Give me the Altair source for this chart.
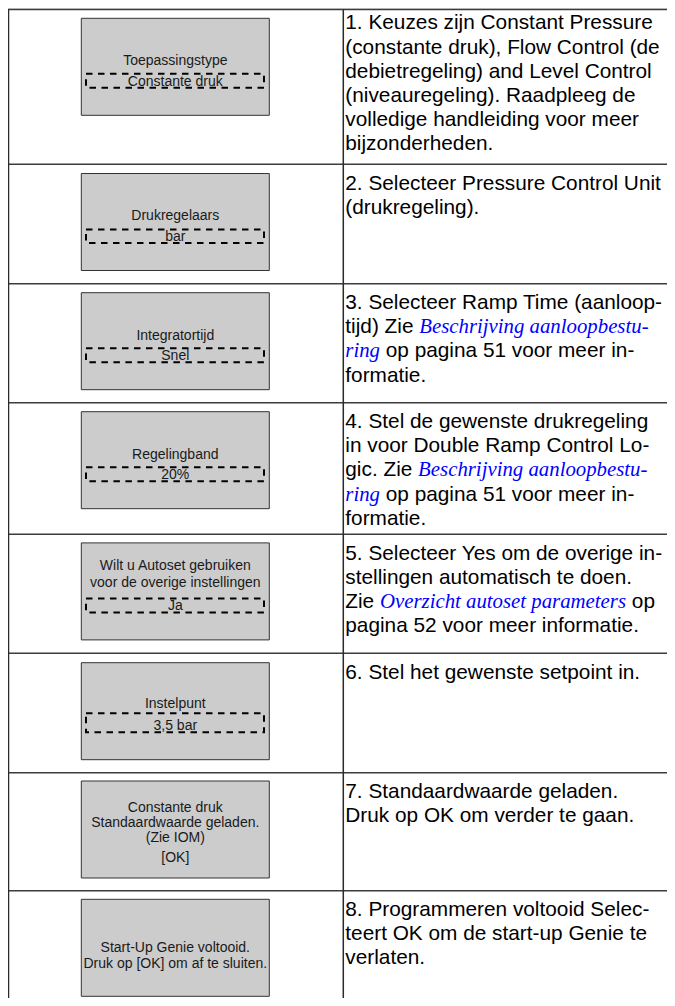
import altair as alt
import pandas as pd

# ---------------- data ----------------
box_labels = [
    ["Toepassingstype"],
    ["Drukregelaars"],
    ["Integratortijd"],
    ["Regelingband"],
    ["Wilt u Autoset gebruiken", "voor de overige instellingen"],
    ["Instelpunt"],
    ["Constante druk", "Standaardwaarde geladen.", "(Zie IOM)", "[OK]"],
    ["Start-Up Genie voltooid.", "Druk op [OK] om af te sluiten."],
]
box_values = ["Constante druk", "bar", "Snel", "20%", "Ja", "3,5 bar", "", ""]

R, L = "regular", "link"
right_text = [
    [[(R, "1. Keuzes zijn Constant Pressure")],
     [(R, "(constante druk), Flow Control (de")],
     [(R, "debietregeling) and Level Control")],
     [(R, "(niveauregeling). Raadpleeg de")],
     [(R, "volledige handleiding voor meer")],
     [(R, "bijzonderheden.")]],
    [[(R, "2. Selecteer Pressure Control Unit")],
     [(R, "(drukregeling).")]],
    [[(R, "3. Selecteer Ramp Time (aanloop-")],
     [(R, "tijd) Zie "), (L, "Beschrijving aanloopbestu-")],
     [(L, "ring"), (R, " op pagina 51 voor meer in-")],
     [(R, "formatie.")]],
    [[(R, "4. Stel de gewenste drukregeling")],
     [(R, "in voor Double Ramp Control Lo-")],
     [(R, "gic. Zie "), (L, "Beschrijving aanloopbestu-")],
     [(L, "ring"), (R, " op pagina 51 voor meer in-")],
     [(R, "formatie.")]],
    [[(R, "5. Selecteer Yes om de overige in-")],
     [(R, "stellingen automatisch te doen.")],
     [(R, "Zie "), (L, "Overzicht autoset parameters"), (R, " op")],
     [(R, "pagina 52 voor meer informatie.")]],
    [[(R, "6. Stel het gewenste setpoint in.")]],
    [[(R, "7. Standaardwaarde geladen.")],
     [(R, "Druk op OK om verder te gaan.")]],
    [[(R, "8. Programmeren voltooid Selec-")],
     [(R, "teert OK om de start-up Genie te")],
     [(R, "verlaten.")]],
]

# ---------------- layout (pixels in page coordinates) ----------------
MARGIN = 8
X_END, Y_END = 667, 998          # keep the whole page inside the window
row_lines = [9.5, 164.3, 283.7, 402.7, 534.3, 653.3, 772.7, 890.7]
box_tops = [18.3, 173.5, 292.7, 411.7, 542.9, 662.7, 781.0, 899.3]
BOX_X0, BOX_X1, BOX_H = 81.3, 269.3, 97.0
DASH_X0, DASH_X1 = 86.0, 264.0
label_offsets = [[46.8], [46.5], [47.3], [46.8], [26.6, 44.0], [45.6],
                 [30.7, 45.7, 60.7, 81.3], [53.0, 68.4]]
value_offset = 67.5
dash_top = [55.5, 56.0, 55.6, 55.6, 55.6, 50.5]
dash_bot = 69.5
COL_X = 343.3
TEXT_X = 345.3
FS = 20.8
LINE_STEP = 24.2
first_base = [29.3] + [r + 25.3 for r in row_lines[1:]]
BOX_CX = (BOX_X0 + BOX_X1) / 2

# font advance widths (per 1000 em) for measuring run offsets
ARIAL = {' ': 278, '(': 333, ')': 333, ',': 278, '-': 333, '.': 278, '%': 889,
         '[': 278, ']': 278}
ARIAL.update({d: 556 for d in "0123456789"})
ARIAL.update(dict(zip("ABCDEFGHIJKLMNOPQRSTUVWXYZ",
                      [667, 667, 722, 722, 667, 611, 778, 722, 278, 500, 667, 556, 833,
                       722, 778, 667, 778, 722, 667, 611, 722, 667, 944, 667, 667, 611])))
ARIAL.update(dict(zip("abcdefghijklmnopqrstuvwxyz",
                      [556, 556, 500, 556, 556, 278, 556, 556, 222, 222, 500, 222, 833,
                       556, 556, 556, 556, 333, 500, 278, 556, 500, 722, 500, 500, 500])))
TIMES_I = {' ': 250, '-': 333, 'B': 611, 'O': 722}
TIMES_I.update(dict(zip("abcdefghijklmnopqrstuvwxyz",
                        [500, 500, 444, 500, 444, 278, 500, 500, 278, 278, 444, 278, 722,
                         500, 500, 500, 500, 389, 389, 278, 500, 444, 667, 444, 444, 389])))


def measure(txt, style):
    table = ARIAL if style == R else TIMES_I
    return sum(table.get(c, 556) for c in txt) * FS / 1000.0


# ---------------- tables for marks ----------------
hlines = pd.DataFrame({"x": MARGIN, "x2": X_END, "y": row_lines})
vlines = pd.DataFrame({"x": [MARGIN + 0.5, COL_X], "y": row_lines[0], "y2": Y_END})
boxes = pd.DataFrame({"x": BOX_X0, "x2": BOX_X1, "y": box_tops,
                      "y2": [t + BOX_H for t in box_tops]})
dash_rows = [i for i, v in enumerate(box_values) if v]
dashes = pd.DataFrame({"x": DASH_X0, "x2": DASH_X1,
                       "y": [box_tops[i] + dash_top[i] for i in dash_rows],
                       "y2": [box_tops[i] + dash_bot for i in dash_rows]})

lab_rows = []
for i, lines in enumerate(box_labels):
    for j, t in enumerate(lines):
        lab_rows.append({"x": BOX_CX, "y": box_tops[i] + label_offsets[i][j], "t": t})
    if box_values[i]:
        lab_rows.append({"x": BOX_CX, "y": box_tops[i] + value_offset, "t": box_values[i]})
labels = pd.DataFrame(lab_rows)

seg_rows = []
for i, lines in enumerate(right_text):
    for j, segs in enumerate(lines):
        x = TEXT_X
        y = first_base[i] + j * LINE_STEP
        for style, t in segs:
            s = t.lstrip(" ")
            x += measure(t[:len(t) - len(s)], style)
            seg_rows.append({"x": x, "y": y, "t": s, "style": style})
            x += measure(s, style)
segs = pd.DataFrame(seg_rows)

xs = alt.Scale(domain=[MARGIN, X_END], range=[0, X_END - MARGIN])
ys = alt.Scale(domain=[MARGIN, Y_END], range=[0, Y_END - MARGIN])
X = lambda f: alt.X(f, type="quantitative", scale=xs, axis=None)
Y = lambda f: alt.Y(f, type="quantitative", scale=ys, axis=None)

box_layer = alt.Chart(boxes).mark_rect(fill="#cccccc", stroke="#333333", strokeWidth=1).encode(
    x=X("x"), x2="x2", y=Y("y"), y2="y2")
dash_layer = alt.Chart(dashes).mark_rect(fillOpacity=0, fill="#cccccc", stroke="#000000",
                                         strokeWidth=2, strokeDash=[6.5, 5.5]).encode(
    x=X("x"), x2="x2", y=Y("y"), y2="y2")
hline_layer = alt.Chart(hlines).mark_rule(stroke="#3c3c3c", strokeWidth=1.5).encode(
    x=X("x"), x2="x2", y=Y("y"))
vline_layer = alt.Chart(vlines).mark_rule(stroke="#2a2a2a", strokeWidth=1.5).encode(
    x=X("x"), y=Y("y"), y2="y2")
label_layer = alt.Chart(labels).mark_text(
    align="center", baseline="alphabetic", fontSize=14, font="Liberation Sans",
    color="#1a1a1a").encode(x=X("x"), y=Y("y"), text="t:N")
reg_layer = alt.Chart(segs).transform_filter(alt.datum.style == R).mark_text(
    align="left", baseline="alphabetic", fontSize=FS, font="Liberation Sans",
    color="#000000").encode(x=X("x"), y=Y("y"), text="t:N")
link_layer = alt.Chart(segs).transform_filter(alt.datum.style == L).mark_text(
    align="left", baseline="alphabetic", fontSize=FS, font="Liberation Serif",
    fontStyle="italic", color="#0000ff").encode(x=X("x"), y=Y("y"), text="t:N")

chart = alt.layer(box_layer, dash_layer, label_layer, hline_layer, vline_layer,
                  reg_layer, link_layer).properties(
    width=X_END - MARGIN, height=Y_END - MARGIN,
    autosize=alt.AutoSizeParams(type="none"), padding=0,
).configure_view(stroke=None).configure(background="white")

chart.save("out.html", embed_options={"renderer": "svg", "actions": False})
